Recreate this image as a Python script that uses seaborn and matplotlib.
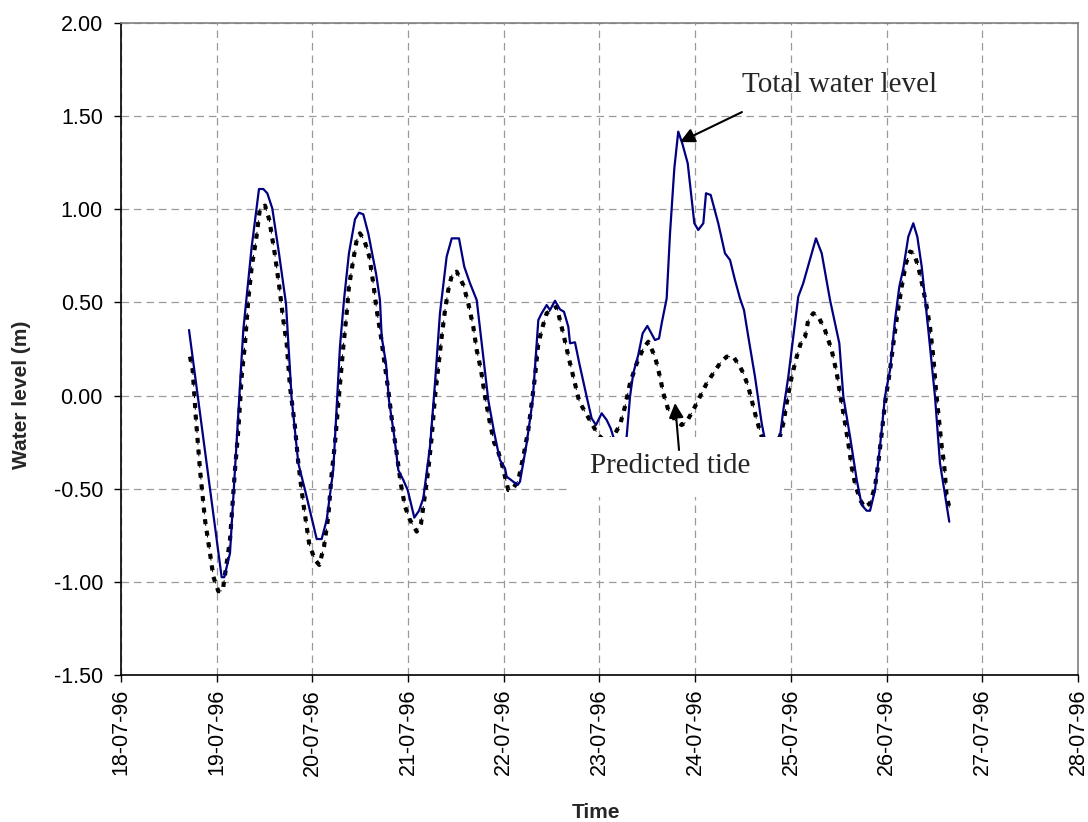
import numpy as np
import pandas as pd
import matplotlib
matplotlib.use("Agg")
import matplotlib.pyplot as plt
import seaborn as sns
from matplotlib.patches import Rectangle

# ---- data (time in days after 18-07-96 00:00, level in m) ----
total_days = [0.711, 1.052, 1.079, 1.139, 1.278, 1.366, 1.442, 1.487, 1.529, 1.581, 1.651, 1.724,
              1.784, 1.853, 1.923, 2.045, 2.097, 2.149, 2.218, 2.288, 2.330, 2.382, 2.445, 2.487,
              2.532, 2.584, 2.665, 2.706, 2.724, 2.769, 2.800, 2.856, 2.898, 2.950, 2.996, 3.065,
              3.114, 3.159, 3.229, 3.281, 3.333, 3.403, 3.456, 3.532, 3.587, 3.647, 3.717, 3.769,
              3.838, 3.901, 3.960, 4.013, 4.030, 4.099, 4.145, 4.169, 4.239, 4.302, 4.361, 4.396,
              4.448, 4.483, 4.535, 4.587, 4.629, 4.674, 4.692, 4.744, 4.789, 4.866, 4.918, 4.963,
              5.023, 5.075, 5.117, 5.144, 5.214, 5.284, 5.319, 5.353, 5.405, 5.451, 5.500, 5.580,
              5.622, 5.650, 5.702, 5.737, 5.782, 5.823, 5.865, 5.922, 5.991, 6.032, 6.085, 6.113,
              6.162, 6.241, 6.311, 6.364, 6.416, 6.468, 6.510, 6.555, 6.625, 6.695, 6.722, 6.792,
              6.886, 6.921, 6.973, 7.025, 7.077, 7.129, 7.262, 7.322, 7.409, 7.506, 7.548, 7.618,
              7.688, 7.740, 7.792, 7.827, 7.879, 7.931, 7.983, 8.036, 8.088, 8.133, 8.175, 8.227,
              8.279, 8.321, 8.367, 8.436, 8.506, 8.558, 8.655]
total_level = [0.352, -0.975, -0.975, -0.846, 0.352, 0.800, 1.109, 1.109, 1.086, 1.005, 0.764, 0.495,
               -0.020, -0.363, -0.507, -0.770, -0.770, -0.668, -0.400, 0.262, 0.513, 0.764, 0.946, 0.982,
               0.973, 0.871, 0.656, 0.513, 0.316, 0.173, -0.024, -0.220, -0.400, -0.453, -0.507, -0.655,
               -0.618, -0.551, -0.274, 0.066, 0.442, 0.746, 0.844, 0.844, 0.692, 0.603, 0.513, 0.281,
               -0.024, -0.202, -0.346, -0.390, -0.435, -0.462, -0.480, -0.462, -0.256, -0.024, 0.406, 0.442,
               0.486, 0.459, 0.509, 0.463, 0.450, 0.370, 0.281, 0.286, 0.173, -0.006, -0.122, -0.158,
               -0.095, -0.131, -0.176, -0.220, -0.300, -0.220, -0.006, 0.120, 0.218, 0.334, 0.374, 0.298,
               0.307, 0.388, 0.522, 0.871, 1.220, 1.417, 1.354, 1.247, 0.925, 0.889, 0.925, 1.086,
               1.077, 0.925, 0.764, 0.728, 0.620, 0.522, 0.459, 0.316, 0.101, -0.149, -0.220, -0.300,
               -0.220, -0.077, 0.101, 0.316, 0.531, 0.603, 0.844, 0.764, 0.513, 0.281, -0.006, -0.220,
               -0.453, -0.587, -0.618, -0.618, -0.507, -0.274, -0.006, 0.137, 0.406, 0.585, 0.683, 0.853,
               0.925, 0.853, 0.692, 0.352, -0.006, -0.363, -0.677]

tide_days = [0.721, 0.749, 0.784, 0.826, 0.878, 0.930, 0.965, 1.017, 1.063, 1.139, 1.191, 1.226,
             1.261, 1.296, 1.330, 1.366, 1.411, 1.452, 1.505, 1.550, 1.609, 1.654, 1.696, 1.731,
             1.766, 1.818, 1.853, 1.905, 1.968, 2.027, 2.072, 2.121, 2.166, 2.202, 2.236, 2.271,
             2.323, 2.358, 2.382, 2.427, 2.463, 2.497, 2.542, 2.595, 2.636, 2.672, 2.717, 2.759,
             2.793, 2.835, 2.881, 2.923, 2.968, 3.020, 3.090, 3.135, 3.169, 3.211, 3.247, 3.281,
             3.316, 3.351, 3.386, 3.420, 3.462, 3.508, 3.577, 3.629, 3.681, 3.717, 3.762, 3.804,
             3.856, 3.901, 3.926, 3.978, 4.013, 4.047, 4.099, 4.152, 4.204, 4.256, 4.291, 4.326,
             4.361, 4.406, 4.448, 4.500, 4.553, 4.587, 4.629, 4.684, 4.710, 4.789, 4.848, 4.918,
             4.987, 5.068, 5.144, 5.214, 5.266, 5.319, 5.389, 5.458, 5.510, 5.580, 5.632, 5.667,
             5.719, 5.789, 5.859, 5.911, 5.980, 6.050, 6.120, 6.189, 6.259, 6.329, 6.398, 6.468,
             6.503, 6.555, 6.599, 6.643, 6.695, 6.782, 6.886, 6.921, 6.956, 7.008, 7.061, 7.113,
             7.148, 7.182, 7.234, 7.287, 7.356, 7.426, 7.479, 7.513, 7.555, 7.600, 7.635, 7.670,
             7.722, 7.774, 7.827, 7.879, 7.913, 7.949, 7.983, 8.036, 8.071, 8.109, 8.158, 8.203,
             8.245, 8.286, 8.331, 8.377, 8.419, 8.453, 8.488, 8.516, 8.551, 8.576, 8.600, 8.628,
             8.663]
tide_level = [0.209, 0.137, -0.131, -0.400, -0.668, -0.846, -0.972, -1.050, -1.047, -0.775, -0.400, -0.185,
              0.101, 0.281, 0.513, 0.692, 0.835, 1.005, 1.020, 0.943, 0.755, 0.585, 0.406, 0.281,
              0.048, -0.167, -0.363, -0.578, -0.800, -0.882, -0.909, -0.811, -0.650, -0.417, -0.256, -0.040,
              0.262, 0.442, 0.585, 0.728, 0.835, 0.871, 0.835, 0.746, 0.603, 0.459, 0.316, 0.155,
              0.030, -0.149, -0.310, -0.471, -0.596, -0.668, -0.730, -0.686, -0.560, -0.400, -0.220, -0.006,
              0.155, 0.316, 0.459, 0.567, 0.656, 0.665, 0.594, 0.495, 0.370, 0.245, 0.137, -0.006,
              -0.149, -0.256, -0.274, -0.363, -0.435, -0.507, -0.498, -0.453, -0.328, -0.185, -0.041, 0.101,
              0.281, 0.370, 0.442, 0.459, 0.477, 0.406, 0.316, 0.191, 0.137, -0.033, -0.086, -0.149,
              -0.211, -0.250, -0.220, -0.158, -0.060, 0.066, 0.173, 0.254, 0.289, 0.209, 0.101, 0.012,
              -0.077, -0.131, -0.158, -0.140, -0.077, -0.006, 0.066, 0.120, 0.173, 0.209, 0.209, 0.155,
              0.120, 0.048, -0.041, -0.131, -0.220, -0.300, -0.220, -0.149, -0.041, 0.101, 0.209, 0.298,
              0.316, 0.406, 0.442, 0.424, 0.352, 0.245, 0.120, 0.012, -0.113, -0.256, -0.382, -0.471,
              -0.560, -0.600, -0.578, -0.489, -0.363, -0.202, -0.041, 0.137, 0.281, 0.424, 0.585, 0.710,
              0.773, 0.764, 0.692, 0.585, 0.477, 0.370, 0.209, 0.030, -0.149, -0.274, -0.363, -0.543,
              -0.614]

x_tick_labels = ["18-07-96", "19-07-96", "20-07-96", "21-07-96", "22-07-96", "23-07-96",
                 "24-07-96", "25-07-96", "26-07-96", "27-07-96", "28-07-96"]
y_ticks = [-1.5, -1.0, -0.5, 0.0, 0.5, 1.0, 1.5, 2.0]

# ---- figure ----
sns.set_style("white")
plt.rcParams['font.family'] = ['Liberation Sans', 'DejaVu Sans']

fig = plt.figure(figsize=(10.88, 8.22), dpi=100)
ax = fig.add_axes([0.1112, 0.1788, 0.8796, 0.7932])

total_df = pd.DataFrame({"days": total_days, "level": total_level})
tide_df = pd.DataFrame({"days": tide_days, "level": tide_level})

sns.lineplot(data=tide_df, x="days", y="level", ax=ax, sort=False, estimator=None,
             color="black", linewidth=0.7, zorder=2)
ax.lines[-1].set_dashes([7, 5])
sns.lineplot(data=tide_df, x="days", y="level", ax=ax, sort=False, estimator=None,
             color="black", linewidth=3.0, zorder=2)
ax.lines[-1].set_dashes([1.2, 1.6])
ax.lines[-1].set_dash_capstyle('butt')
sns.lineplot(data=total_df, x="days", y="level", ax=ax, sort=False, estimator=None,
             color="#000080", linewidth=1.6, zorder=2.5)

ax.set_xlim(0, 10)
ax.set_ylim(-1.5, 2.0)
ax.set_xticks(range(len(x_tick_labels)))
ax.set_xticklabels(x_tick_labels, rotation=90)
ax.set_yticks(y_ticks)
ax.set_yticklabels([f"{v:.2f}" for v in y_ticks])
ax.tick_params(axis='x', labelsize=15.5, direction='out', length=5, width=1,
               color='black', labelcolor='black', bottom=True, pad=5)
ax.tick_params(axis='y', labelsize=15.5, direction='out', length=5, width=1,
               color='black', labelcolor='black', left=True, pad=8)

ax.grid(True, color='#9a9a9a', linestyle=(0, (6, 4)), linewidth=0.9)
ax.set_axisbelow(True)
for s in ['left', 'bottom']:
    ax.spines[s].set_color('black')
    ax.spines[s].set_linewidth(1.2)
for s in ['top', 'right']:
    ax.spines[s].set_color('#808080')
    ax.spines[s].set_linewidth(1.2)

ax.set_xlabel("Time", fontsize=15, fontweight='bold')
ax.set_ylabel("Water level (m)", fontsize=15, fontweight='bold')
ax.xaxis.set_label_coords((596 - 121) / 957, -(812 - 675) / 652)
ax.yaxis.set_label_coords(-(121 - 22) / 957, (675 - 395) / 652)
ax.xaxis.label.set_va('center')
ax.yaxis.label.set_va('center')

# white label box for "Predicted tide"
ax.add_patch(Rectangle((4.671, -0.544), 6.907 - 4.671, 0.322, facecolor='white',
                       edgecolor='none', zorder=3))

serif = ['Liberation Serif', 'DejaVu Serif']
ax.text(7.513, 1.667, "Total water level", fontsize=21, family=serif,
        ha='center', va='center', zorder=5)
ax.annotate("", xy=(5.841, 1.361), xytext=(6.489, 1.522),
            arrowprops=dict(arrowstyle='-|>', mutation_scale=22, lw=1.5, color='black',
                            shrinkA=0, shrinkB=0), zorder=5)
ax.text(5.737, -0.378, "Predicted tide", fontsize=21, family=serif,
        ha='center', va='center', zorder=5)
ax.annotate("", xy=(5.789, -0.040), xytext=(5.831, -0.292),
            arrowprops=dict(arrowstyle='-|>', mutation_scale=22, lw=1.5, color='black',
                            shrinkA=0, shrinkB=0), zorder=5)

if ax.get_legend() is not None:
    ax.get_legend().remove()

fig.savefig("out.png", dpi=100)
